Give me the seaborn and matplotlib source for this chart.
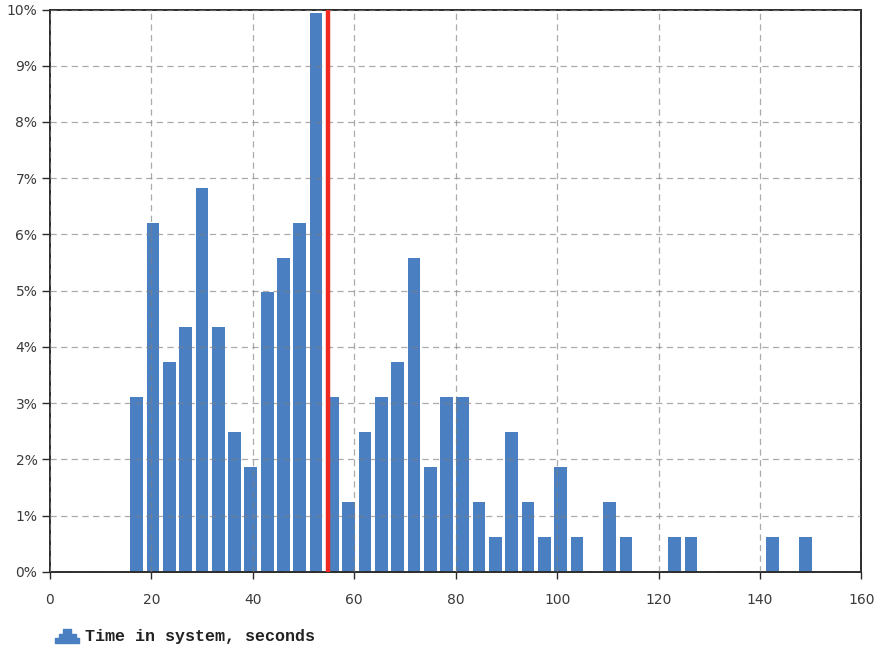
import numpy as np
import pandas as pd
import seaborn as sns
import matplotlib.pyplot as plt
from matplotlib.path import Path
from matplotlib.lines import Line2D
from matplotlib.ticker import FuncFormatter

# Share of customers (%) falling into each time-in-system bin
share_pct = [3.11, 6.21, 3.73, 4.35, 6.83, 4.35, 2.48, 1.86, 4.97, 5.59,
             6.21, 9.94, 3.11, 1.24, 2.48, 3.11, 3.73, 5.59, 1.86, 3.11,
             3.11, 1.24, 0.62, 2.48, 1.24, 0.62, 1.86, 0.62, 0.00, 1.24,
             0.62, 0.00, 0.00, 0.62, 0.62, 0.00, 0.00, 0.00, 0.00, 0.62,
             0.00, 0.62]
first_bin_center = 17.1    # seconds
bin_width = 3.215          # seconds
mean_time = 54.85          # seconds, marked by the red line
x_ticks = [0, 20, 40, 60, 80, 100, 120, 140, 160]
y_ticks = [0, 1, 2, 3, 4, 5, 6, 7, 8, 9, 10]
series_label = "Time in system, seconds"

BAR_COLOR = "#4a7fc1"
centers = first_bin_center + bin_width * np.arange(len(share_pct))
df = pd.DataFrame({"time": centers, "share": share_pct})

sns.set_theme(style="white")
plt.rcParams["font.family"] = ["DejaVu Sans"]

fig = plt.figure(figsize=(8.83, 6.51), dpi=100)
ax = fig.add_axes([0.0566, 0.1214, 0.919, 0.864])

sns.histplot(data=df, x="time", weights="share", bins=len(share_pct),
             binrange=(centers[0] - bin_width / 2, centers[-1] + bin_width / 2),
             shrink=0.78, color=BAR_COLOR, edgecolor="none", alpha=1.0,
             legend=False, ax=ax)

ax.axvline(mean_time, color="#ee2a22", lw=3.2, zorder=4)

ax.set_xlim(0, 160)
ax.set_ylim(0, 10)
ax.set_xticks(x_ticks)
ax.set_yticks(y_ticks)
ax.yaxis.set_major_formatter(FuncFormatter(lambda v, _: f"{v:.0f}%"))
ax.set_xlabel("")
ax.set_ylabel("")

ax.set_axisbelow(False)
ax.grid(True, color="#7f7f7f", linestyle=(0, (5, 3.5)), linewidth=0.9, alpha=0.65)

for sp in ax.spines.values():
    sp.set_visible(True)
    sp.set_color("#2b2b2b")
    sp.set_linewidth(1.4)

ax.tick_params(axis="y", direction="out", length=6, width=1, pad=3,
               color="#2b2b2b", labelcolor="#3a3a3a", labelsize=10, left=True)
ax.tick_params(axis="x", direction="out", length=5, width=1, pad=10,
               color="#2b2b2b", labelcolor="#3a3a3a", labelsize=10, bottom=True)

# Stepped mound icon for the legend entry
mound = Path([(-1.0, -0.6), (1.0, -0.6), (1.0, -0.15), (0.72, -0.15),
              (0.72, 0.2), (0.38, 0.2), (0.38, 0.6), (-0.38, 0.6),
              (-0.38, 0.2), (-0.72, 0.2), (-0.72, -0.15), (-1.0, -0.15),
              (-1.0, -0.6)], closed=True)
handle = Line2D([], [], linestyle="none", marker=mound, markersize=17,
                markerfacecolor=BAR_COLOR, markeredgecolor=BAR_COLOR)
fig.legend(handles=[handle], labels=[series_label], loc="center left",
           bbox_to_anchor=(56 / 883, 1 - 637 / 651), frameon=False,
           borderpad=0, borderaxespad=0, handlelength=1.3, handletextpad=0.45,
           prop={"family": "Liberation Mono", "size": 12, "weight": "bold"},
           labelcolor="#222222")

fig.savefig("out.png", dpi=100)
